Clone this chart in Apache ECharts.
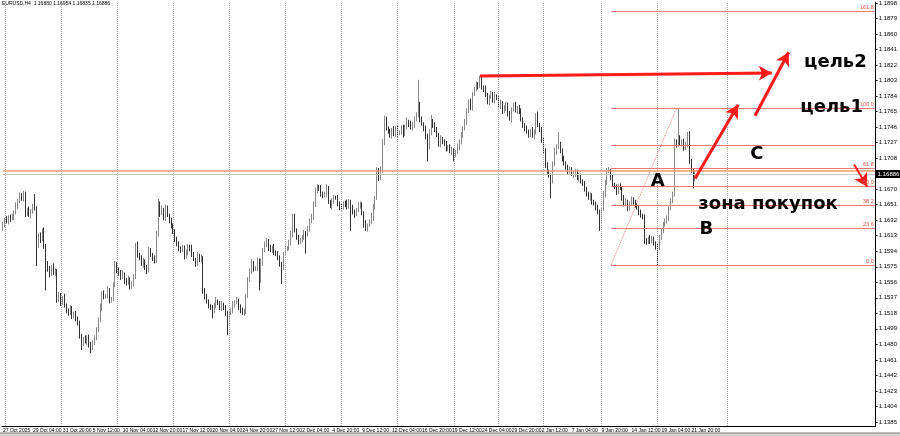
<!DOCTYPE html>
<html><head><meta charset="utf-8">
<script src="https://cdn.jsdelivr.net/npm/echarts@6/dist/echarts.min.js"></script>
<style>html,body{margin:0;padding:0;background:#fff}#c{width:900px;height:436px}</style>
</head><body><div id="c"></div>
<script>
// ---- data (prices in pips: 11627 = 1.1627) ----
const firstOpen = 11622;
const closes = [
11627,11633,11630,11636,11634,11635,11641,11650,11656,11662,
11658,11664,11640,11645,11638,11643,11650,11646,11601,11612,
11608,11619,11600,11580,11572,11566,11574,11568,11570,11534,
11540,11531,11537,11527,11522,11518,11524,11515,11518,11510,
11506,11491,11481,11486,11483,11489,11479,11475,11482,11489,
11498,11509,11525,11542,11538,11540,11546,11533,11536,11552,
11579,11570,11568,11562,11566,11558,11555,11560,11551,11554,
11562,11601,11590,11586,11578,11582,11574,11570,11595,11590,
11586,11582,11615,11652,11640,11645,11635,11647,11638,11631,
11625,11619,11607,11603,11598,11595,11598,11588,11591,11600,
11598,11590,11584,11579,11588,11583,11586,11546,11538,11532,
11527,11524,11521,11528,11533,11530,11525,11529,11525,11517,
11512,11518,11522,11528,11531,11534,11526,11521,11518,11521,
11540,11558,11570,11579,11572,11574,11582,11558,11580,11595,
11602,11607,11598,11595,11598,11593,11591,11585,11579,11574,
11590,11598,11598,11603,11615,11637,11620,11610,11606,11607,
11612,11616,11615,11622,11630,11635,11652,11667,11672,11671,
11665,11662,11664,11671,11655,11649,11655,11660,11659,11652,
11648,11647,11653,11652,11648,11655,11647,11642,11639,11645,
11650,11652,11640,11628,11622,11626,11630,11635,11648,11659,
11692,11684,11692,11728,11756,11745,11740,11736,11742,11737,
11744,11738,11740,11745,11737,11746,11753,11750,11745,11749,
11755,11761,11773,11756,11750,11744,11735,11722,11738,11753,
11748,11744,11736,11725,11732,11728,11725,11720,11722,11716,
11718,11712,11715,11722,11728,11735,11745,11753,11765,11777,
11770,11786,11793,11798,11796,11805,11795,11793,11785,11777,
11783,11786,11779,11784,11781,11772,11776,11765,11770,11773,
11762,11756,11768,11773,11766,11770,11765,11755,11749,11744,
11740,11737,11742,11735,11740,11761,11748,11744,11730,11716,
11700,11692,11686,11680,11700,11716,11722,11725,11716,11708,
11702,11696,11692,11695,11688,11688,11692,11683,11686,11680,
11676,11670,11665,11659,11662,11655,11652,11647,11643,11631,
11645,11664,11678,11692,11692,11685,11676,11672,11667,11673,
11671,11660,11652,11655,11647,11652,11657,11655,11650,11647,
11642,11638,11635,11607,11605,11610,11607,11610,11603,11600,
11598,11610,11620,11627,11630,11635,11647,11655,11664,11728,
11725,11732,11726,11728,11720,11725,11737,11704,11692,11683,
11689];
const upperWick = [
3,2,4,2,3,5,3,4,2,4, 3,4,3,2,4,3,2,14,3,4, 5,3,4,3,2,4,3,5,3,2, 4,3,2,5,3,2,4,3,2,3,
4,3,2,3,5,2,3,4,3,2, 3,4,5,3,4,2,5,3,2,4, 3,2,4,3,5,2,3,4,2,3, 4,3,5,2,3,4,2,3,4,3,
2,3,4,6,3,5,2,4,3,2, 4,3,2,5,3,2,4,3,5,3, 2,4,3,2,5,3,4,2,3,4, 3,2,4,3,5,2,3,4,2,3,
4,3,2,5,3,4,2,3,4,3, 2,4,3,5,3,2,4,3,5,3, 4,3,2,4,3,5,2,3,4,2, 3,4,2,5,4,3,3,2,4,3,
2,4,3,3,4,5,3,5,4,3, 4,2,3,5,3,2,4,3,2,4, 3,4,2,3,5,3,2,4,3,2, 4,3,2,3,4,2,3,6,4,3,
5,4,6,3,4,3,2,4,3,5, 3,4,2,3,4,3,5,2,4,3, 4,3,31,4,3,2,4,3,5,8, 3,4,2,3,4,2,3,4,2,3,
4,2,3,4,3,5,2,3,4,3, 4,3,2,4,3,4,3,2,4,3, 2,4,3,5,2,3,4,2,3,4, 3,4,2,3,4,2,3,4,3,2,
4,3,2,4,3,2,4,3,2,3, 4,3,2,3,4,5,3,15,3,4, 3,2,4,3,2,4,3,2,4,3, 2,4,3,2,4,3,2,3,4,2,
3,4,3,4,5,3,4,2,4,3, 4,2,3,4,2,3,4,3,2,3, 4,3,2,4,3,2,4,3,2,3, 3,4,2,3,4,3,2,4,3,4,
3,37,4,3,4,3,3,4,3,4, 3];
const lowerWick = [
3,4,2,3,4,2,3,2,4,3, 2,3,4,3,2,4,3,2,25,3, 4,2,3,34,3,4,2,3,4,3, 2,4,3,2,4,3,2,4,3,2,
3,4,8,3,2,4,3,6,2,3, 4,3,2,4,3,2,4,3,2,3, 2,3,4,3,2,4,3,2,4,3, 3,2,4,3,2,4,3,4,2,3,
4,3,2,3,4,2,3,4,2,3, 3,4,2,3,4,3,2,4,3,2, 4,3,2,4,3,2,3,4,3,2, 3,2,9,3,4,2,3,4,3,2,
21,3,2,4,3,2,4,3,2,3, 4,3,2,4,3,2,4,12,3,4, 2,3,4,2,3,4,3,2,4,20, 3,2,4,3,2,4,3,2,4,3,
2,4,24,3,4,2,3,4,2,3, 4,3,2,4,3,2,4,3,2,3, 4,3,2,4,3,2,28,3,4,2, 3,4,2,5,3,4,2,3,4,3,
2,4,3,2,4,3,2,3,4,2, 3,4,2,3,4,2,3,4,2,3, 4,2,3,4,2,3,4,18,3,2, 3,4,2,3,4,3,2,4,3,2,
4,8,3,2,4,3,2,3,4,2, 3,4,2,3,4,2,3,4,2,3, 4,2,3,4,2,3,4,3,2,4, 3,2,4,3,2,4,3,2,4,3,
2,4,3,2,4,3,2,4,3,2, 4,3,2,21,3,2,4,3,2,4, 3,2,4,3,2,4,3,2,4,3, 2,3,4,2,3,4,2,3,4,12,
3,2,4,3,2,4,3,2,4,3, 2,4,3,2,4,3,2,4,3,2, 4,3,2,4,3,2,4,3,2,4, 21,3,2,4,3,2,4,3,2,3,
4,3,2,4,3,2,4,3,2,12, 3];
const xTickLabels = ["27 Oct 2025","29 Oct 04:00","31 Oct 20:00","5 Nov 12:00","10 Nov 04:00","12 Nov 20:00",
"17 Nov 12:00","20 Nov 04:00","24 Nov 20:00","27 Nov 12:00","2 Dec 04:00","4 Dec 20:00","9 Dec 12:00",
"12 Dec 04:00","16 Dec 20:00","19 Dec 12:00","24 Dec 04:00","29 Dec 20:00","2 Jan 12:00","7 Jan 04:00",
"9 Jan 20:00","14 Jan 12:00","19 Jan 04:00","21 Jan 20:00"];
const yTickValues = [1.1385,1.1404,1.1423,1.1442,1.1461,1.1480,1.1499,1.1518,1.1537,1.1556,1.1575,1.1594,
1.1613,1.1632,1.1651,1.1670,1.1689,1.1708,1.1727,1.1746,1.1765,1.1784,1.1803,1.1822,1.1841,1.1860,1.1879,1.1898];
const weekGridBars = [1,31,61,91,121,151,181,211,241,265,289,320,350,387];
const lastPrice = 1.16886;
const userLine = 1.1692;
const fibLow = 1.1577, fibHigh = 1.1769;
const fibLevels = [0, 23.6, 38.2, 50.0, 61.8, 76.4, 100.0, 161.8];
const headerText = "EURUSD,H4  1.16880 1.16954 1.16835 1.16886";

// ---- build ----
const BARS_PER_LABEL = 16, SLOTS = 467;
const ohlc = closes.map((c, i) => {
  const o = i === 0 ? firstOpen : closes[i - 1];
  const h = Math.max(o, c) + (upperWick[i] || 0);
  const l = Math.min(o, c) - (lowerWick[i] || 0);
  return [o / 10000, c / 10000, l / 10000, h / 10000];
});
const cats = Array.from({length: SLOTS}, (_, i) =>
  (i % BARS_PER_LABEL === 0 && i / BARS_PER_LABEL < xTickLabels.length) ? xTickLabels[i / BARS_PER_LABEL] : '');

const fibStart = 325, fibTopBar = 360, lastSlot = SLOTS - 1;
const red = '#ff1a1a', fibColor = '#f07a7a';
const fibLines = fibLevels.map(lv => {
  const p = fibLow + (fibHigh - fibLow) * lv / 100;
  return [{coord: [fibStart, p]}, {coord: [lastSlot, p],
    label: {show: lv !== 76.4, formatter: lv.toFixed(1), position: 'insideEndTop', distance: 1,
      color: '#e8504c', fontSize: 5.5, fontFamily: 'Liberation Sans'}}];
});
function hline(p, style, label) {
  return [{coord: [0, p], lineStyle: style}, {coord: [lastSlot, p], label: label || {show: false}}];
}
function arrow(b1, p1, b2, p2, w) {
  return [{coord: [b1, p1], symbol: 'none', lineStyle: {color: red, width: w || 3, type: 'solid'}},
          {coord: [b2, p2], symbol: 'arrow', symbolSize: [11, 13]}];
}
const textStyle = {fontFamily: 'DejaVu Sans', fontWeight: 'bold', fontSize: 18, color: '#000'};
function txt(b, p, s) {
  return {coord: [b, p], symbol: 'circle', symbolSize: 0,
    label: Object.assign({show: true, formatter: s, position: 'inside'}, textStyle)};
}

const chart = echarts.init(document.getElementById('c'), null, {renderer: 'canvas'});
chart.setOption({
  animation: false,
  backgroundColor: '#fff',
  grid: {left: 0, right: 16, top: 0, bottom: 10, containLabel: false},
  xAxis: {type: 'category', data: cats, boundaryGap: true,
    axisLine: {lineStyle: {color: '#000', width: 1}},
    axisTick: {alignWithLabel: true, length: 2, lineStyle: {color: '#000'},
      interval: (i, v) => v !== ''},
    axisLabel: {interval: (i, v) => v !== '', align: 'left', margin: 2, fontSize: 5,
      fontFamily: 'Liberation Sans', color: '#000'},
    splitLine: {show: false}},
  yAxis: {type: 'value', position: 'right', min: 1.1380, max: 1.1899,
    axisLine: {show: true, lineStyle: {color: '#000', width: 1}},
    axisTick: {show: true, length: 2, customValues: yTickValues, lineStyle: {color: '#000'}},
    axisLabel: {customValues: yTickValues, formatter: v => v.toFixed(4), margin: 3, fontSize: 6,
      fontFamily: 'Liberation Sans', color: '#000'},
    splitLine: {show: false}},
  graphic: [
    {type: 'text', left: 2, top: 1, style: {text: headerText, fontSize: 5, fontFamily: 'Liberation Sans', fill: '#000'}},
    {type: 'rect', shape: {x: 0, y: 433, width: 900, height: 3}, style: {fill: '#d6d3ce'}},
    {type: 'line', shape: {x1: 0, y1: 433, x2: 900, y2: 433}, style: {stroke: '#808080', lineWidth: 1}}
  ],
  series: [
    {type: 'candlestick', data: ohlc, barWidth: 1.3, z: 3,
      itemStyle: {color: '#7a7a7a', color0: '#1a1a1a', borderColor: '#7a7a7a', borderColor0: '#1a1a1a', borderWidth: 0.9},
      markLine: {silent: true, symbol: 'none', animation: false,
        lineStyle: {color: '#b4b4b4', type: 'dotted', width: 1}, label: {show: false},
        data: weekGridBars.map(b => ({xAxis: b}))}
    },
    {type: 'line', data: [], z: 4,
      markLine: {silent: true, symbol: 'none', animation: false, label: {show: false},
        lineStyle: {color: fibColor, width: 1, type: 'solid'},
        data: [
          ...fibLines,
          [{coord: [fibStart, fibLow], lineStyle: {color: fibColor, type: 'dotted', width: 1}}, {coord: [fibTopBar, fibHigh]}],
          hline(userLine, {color: '#f29a6a', width: 1.5, type: 'solid'}),
          hline(lastPrice, {color: '#c8c8c8', width: 1, type: 'solid'},
            {show: true, position: 'end', distance: 1, formatter: lastPrice.toFixed(5), color: '#fff',
              backgroundColor: '#000', padding: [1, 2], fontSize: 6, fontFamily: 'Liberation Sans'}),
          arrow(255, 1.18085, 411, 1.18122),
          arrow(370, 1.16832, 393, 1.17733),
          arrow(402, 1.17599, 420, 1.18377),
          arrow(455, 1.17002, 462, 1.16730, 2)
        ]},
      markPoint: {silent: true, animation: false,
        data: [
          txt(445, 1.18256, 'цель2'),
          txt(443, 1.17708, 'цель1'),
          txt(403, 1.17124, 'C'),
          txt(350, 1.16795, 'A'),
          txt(409, 1.16515, 'зона покупок'),
          txt(376, 1.16211, 'B')
        ]}
    }
  ]
});
</script></body></html>
